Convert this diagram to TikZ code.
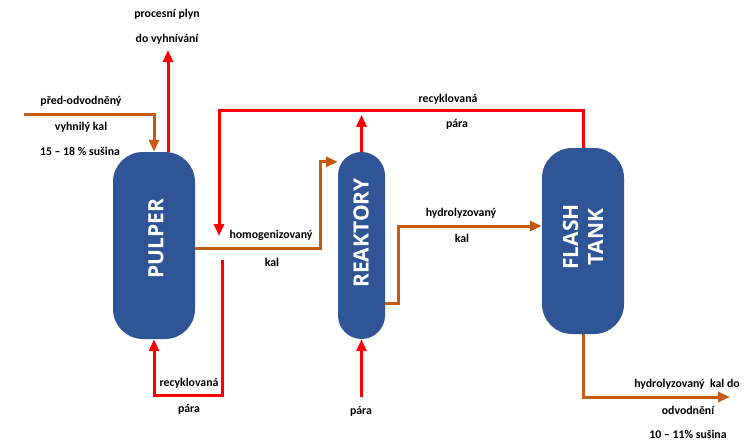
\documentclass[tikz,border=0pt]{standalone}
\usepackage{fontspec}
\setmainfont{Carlito}
\newfontfamily\tankfont{Open Sans}
\usetikzlibrary{arrows.meta}

\definecolor{tankblue}{HTML}{2F5597}
\definecolor{sludge}{HTML}{C55A11}
\definecolor{steam}{HTML}{FF0000}

\tikzset{
  vessel/.style={fill=tankblue, inner sep=0pt},
  tanklabel/.style={font=\tankfont\bfseries\fontsize{21}{25}\selectfont, text=white, align=center, rotate=90, inner sep=0pt},
  lbl/.style={font=\bfseries\fontsize{11.8}{13}\selectfont, inner sep=0pt},
  sludgeline/.style={draw=sludge, line width=3pt, -{Triangle[length=12pt,width=10pt]}},
  steamline/.style={draw=steam, line width=3pt, -{Triangle[length=12pt,width=10pt]}}
}

\begin{document}
\begin{tikzpicture}[x=1pt,y=-1pt]
\useasboundingbox (0,0) rectangle (751,442);

\node[vessel, minimum width=82pt, minimum height=187pt, rounded corners=30pt] (pulper) at (154,245.5) {};
\node[vessel, minimum width=47pt, minimum height=187pt, rounded corners=23.5pt] (reaktory) at (361.5,245.5) {};
\node[vessel, minimum width=82pt, minimum height=186pt, rounded corners=30pt] (flash) at (583,241) {};

\node[tanklabel] (pulpertext) at (156,239) {PULPER};
\node[tanklabel] (reaktorytext) at (361,233) {REAKTORY};
\node[tanklabel] (flashtext) at (583,237) {FLASH\\TANK};

\coordinate (feed) at (24,114);
\coordinate (gas) at (168,50);
\coordinate (rectop) at (219,236);
\coordinate (recbot) at (222,260);
\coordinate (steamin) at (361.5,397);
\coordinate (out) at (730,397);

\draw[sludgeline] (feed) -| (pulper.north);
\draw[steamline] ([xshift=14pt]pulper.north) -- (gas);
\draw[steamline] (flash.north) -- ++(0,-37) -| (rectop);
\draw[steamline] (reaktory.north) -- ++(0,-37);
\draw[sludgeline] ([yshift=-2.5pt]pulper.east) -- ++(125,0) |- ([yshift=-10pt]reaktory.north west);
\draw[steamline] (recbot) -- ++(0,135) -| (pulper.south);
\draw[steamline] (steamin) -- (reaktory.south);
\draw[sludgeline] ([yshift=-57.5pt]reaktory.east) -- ++(13,0) |- ([yshift=15pt]flash.west);
\draw[sludgeline] (flash.south) |- (out);

\node[lbl] (gas1) at (167,14) {procesní plyn};
\node[lbl] (gas2) at (167,39) {do vyhnívání};
\node[lbl] (feed1) at (81,101) {před-odvodněný};
\node[lbl] (feed2) at (81,127) {vyhnilý kal};
\node[lbl] (feed3) at (80,151) {15 – 18 \% sušina};
\node[lbl] (rectop1) at (448,99) {recyklovaná};
\node[lbl] (rectop2) at (457,124) {pára};
\node[lbl] (homog1) at (271,235) {homogenizovaný};
\node[lbl] (homog2) at (272,262) {kal};
\node[lbl] (hydro1) at (461,213) {hydrolyzovaný};
\node[lbl] (hydro2) at (462,238) {kal};
\node[lbl] (recbot1) at (189,383) {recyklovaná};
\node[lbl] (recbot2) at (189,409) {pára};
\node[lbl] (steamin1) at (361,411) {pára};
\node[lbl] (out1) at (687,384) {hydrolyzovaný\ \ kal do};
\node[lbl] (out2) at (688,410) {odvodnění};
\node[lbl] (out3) at (688,434) {10 – 11\% sušina};
\end{tikzpicture}
\end{document}
